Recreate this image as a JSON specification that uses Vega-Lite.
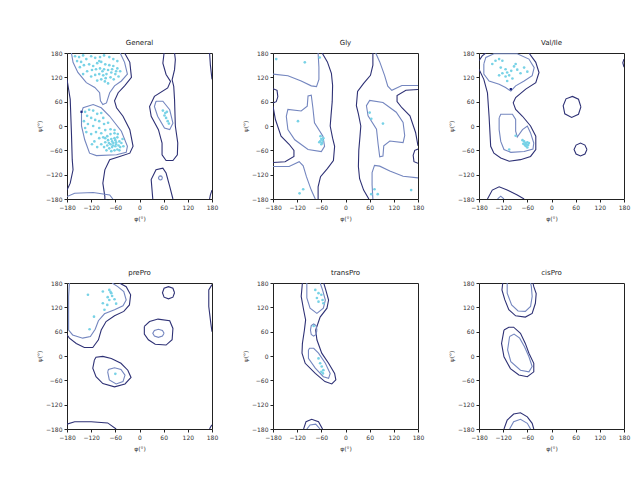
{
"$schema":"https://vega.github.io/schema/vega-lite/v6.json",
"background":"white",
"padding":{"left":36,"top":38,"right":5,"bottom":5},
"bounds":"flush",
"spacing":{"row":84,"column":61},
"columns":3,
"data":{"values":[
{"p":"General","k":"o","c":1,"x":-37,"y":180},{"p":"General","k":"o","c":1,"x":-24,"y":157},{"p":"General","k":"o","c":1,"x":-20,"y":120},{"p":"General","k":"o","c":1,"x":-37,"y":99},{"p":"General","k":"o","c":1,"x":-53,"y":82},{"p":"General","k":"o","c":1,"x":-62,"y":62},{"p":"General","k":"o","c":1,"x":-57,"y":45},{"p":"General","k":"o","c":1,"x":-41,"y":24},{"p":"General","k":"o","c":1,"x":-24,"y":-9},{"p":"General","k":"o","c":1,"x":-16,"y":-50},{"p":"General","k":"o","c":1,"x":-24,"y":-67},{"p":"General","k":"o","c":1,"x":-49,"y":-75},{"p":"General","k":"o","c":1,"x":-74,"y":-83},{"p":"General","k":"o","c":1,"x":-86,"y":-108},{"p":"General","k":"o","c":1,"x":-91,"y":-141},{"p":"General","k":"o","c":1,"x":-86,"y":-174},{"p":"General","k":"o","c":1,"x":-86,"y":-180},
{"p":"General","k":"i","c":2,"x":-169,"y":180},{"p":"General","k":"i","c":2,"x":-165,"y":157},{"p":"General","k":"i","c":2,"x":-153,"y":132},{"p":"General","k":"i","c":2,"x":-132,"y":107},{"p":"General","k":"i","c":2,"x":-111,"y":95},{"p":"General","k":"i","c":2,"x":-99,"y":82},{"p":"General","k":"i","c":2,"x":-97,"y":62},{"p":"General","k":"i","c":2,"x":-91,"y":53},{"p":"General","k":"i","c":2,"x":-82,"y":57},{"p":"General","k":"i","c":2,"x":-74,"y":82},{"p":"General","k":"i","c":2,"x":-62,"y":99},{"p":"General","k":"i","c":2,"x":-45,"y":111},{"p":"General","k":"i","c":2,"x":-30,"y":128},{"p":"General","k":"i","c":2,"x":-37,"y":157},{"p":"General","k":"i","c":2,"x":-48,"y":180},
{"p":"General","k":"i","c":3,"x":-144,"y":33},{"p":"General","k":"i","c":3,"x":-140,"y":45},{"p":"General","k":"i","c":3,"x":-115,"y":53},{"p":"General","k":"i","c":3,"x":-95,"y":45},{"p":"General","k":"i","c":3,"x":-74,"y":24},{"p":"General","k":"i","c":3,"x":-45,"y":-13},{"p":"General","k":"i","c":3,"x":-30,"y":-50},{"p":"General","k":"i","c":3,"x":-33,"y":-65},{"p":"General","k":"i","c":3,"x":-57,"y":-71},{"p":"General","k":"i","c":3,"x":-107,"y":-73},{"p":"General","k":"i","c":3,"x":-124,"y":-67},{"p":"General","k":"i","c":3,"x":-136,"y":-34},{"p":"General","k":"i","c":3,"x":-144,"y":0},{"p":"General","k":"i","c":3,"x":-144,"y":33},
{"p":"General","k":"o","c":4,"x":-180,"y":115},{"p":"General","k":"o","c":4,"x":-172,"y":66},{"p":"General","k":"o","c":4,"x":-169,"y":-17},{"p":"General","k":"o","c":4,"x":-167,"y":-83},{"p":"General","k":"o","c":4,"x":-165,"y":-108},{"p":"General","k":"o","c":4,"x":-172,"y":-141},{"p":"General","k":"o","c":4,"x":-180,"y":-158},
{"p":"General","k":"o","c":5,"x":174,"y":180},{"p":"General","k":"o","c":5,"x":176,"y":150},{"p":"General","k":"o","c":5,"x":180,"y":115},
{"p":"General","k":"o","c":6,"x":180,"y":-158},{"p":"General","k":"o","c":6,"x":176,"y":-170},{"p":"General","k":"o","c":6,"x":174,"y":-180},
{"p":"General","k":"i","c":7,"x":-180,"y":-174},{"p":"General","k":"i","c":7,"x":-161,"y":-166},{"p":"General","k":"i","c":7,"x":-115,"y":-164},{"p":"General","k":"i","c":7,"x":-74,"y":-170},{"p":"General","k":"i","c":7,"x":-66,"y":-180},
{"p":"General","k":"o","c":8,"x":61,"y":180},{"p":"General","k":"o","c":8,"x":58,"y":155},{"p":"General","k":"o","c":8,"x":66,"y":127},{"p":"General","k":"o","c":8,"x":77,"y":110},{"p":"General","k":"o","c":8,"x":70,"y":94},{"p":"General","k":"o","c":8,"x":37,"y":73},{"p":"General","k":"o","c":8,"x":25,"y":48},{"p":"General","k":"o","c":8,"x":29,"y":24},{"p":"General","k":"o","c":8,"x":47,"y":-9},{"p":"General","k":"o","c":8,"x":56,"y":-42},{"p":"General","k":"o","c":8,"x":56,"y":-71},{"p":"General","k":"o","c":8,"x":66,"y":-85},{"p":"General","k":"o","c":8,"x":83,"y":-85},{"p":"General","k":"o","c":8,"x":94,"y":-71},{"p":"General","k":"o","c":8,"x":95,"y":-42},{"p":"General","k":"o","c":8,"x":89,"y":0},{"p":"General","k":"o","c":8,"x":87,"y":65},{"p":"General","k":"o","c":8,"x":85,"y":98},{"p":"General","k":"o","c":8,"x":81,"y":114},{"p":"General","k":"o","c":8,"x":87,"y":139},{"p":"General","k":"o","c":8,"x":89,"y":164},{"p":"General","k":"o","c":8,"x":87,"y":180},
{"p":"General","k":"i","c":9,"x":41,"y":61},{"p":"General","k":"i","c":9,"x":37,"y":48},{"p":"General","k":"i","c":9,"x":45,"y":24},{"p":"General","k":"i","c":9,"x":62,"y":-5},{"p":"General","k":"i","c":9,"x":75,"y":-9},{"p":"General","k":"i","c":9,"x":83,"y":7},{"p":"General","k":"i","c":9,"x":75,"y":40},{"p":"General","k":"i","c":9,"x":58,"y":61},{"p":"General","k":"i","c":9,"x":41,"y":61},
{"p":"General","k":"o","c":10,"x":33,"y":-180},{"p":"General","k":"o","c":10,"x":29,"y":-132},{"p":"General","k":"o","c":10,"x":41,"y":-108},{"p":"General","k":"o","c":10,"x":58,"y":-104},{"p":"General","k":"o","c":10,"x":66,"y":-116},{"p":"General","k":"o","c":10,"x":75,"y":-149},{"p":"General","k":"o","c":10,"x":83,"y":-180},
{"p":"General","k":"i","c":11,"x":57,"y":-128},{"p":"General","k":"i","c":11,"x":55,"y":-124},{"p":"General","k":"i","c":11,"x":52,"y":-123},{"p":"General","k":"i","c":11,"x":49,"y":-124},{"p":"General","k":"i","c":11,"x":47,"y":-128},{"p":"General","k":"i","c":11,"x":49,"y":-132},{"p":"General","k":"i","c":11,"x":52,"y":-133},{"p":"General","k":"i","c":11,"x":55,"y":-132},{"p":"General","k":"i","c":11,"x":57,"y":-128},
{"p":"Gly","k":"i","c":20,"x":-147,"y":24},{"p":"Gly","k":"i","c":20,"x":-143,"y":41},{"p":"Gly","k":"i","c":20,"x":-110,"y":37},{"p":"Gly","k":"i","c":20,"x":-95,"y":49},{"p":"Gly","k":"i","c":20,"x":-93,"y":74},{"p":"Gly","k":"i","c":20,"x":-85,"y":76},{"p":"Gly","k":"i","c":20,"x":-81,"y":45},{"p":"Gly","k":"i","c":20,"x":-77,"y":8},{"p":"Gly","k":"i","c":20,"x":-56,"y":-25},{"p":"Gly","k":"i","c":20,"x":-52,"y":-50},{"p":"Gly","k":"i","c":20,"x":-60,"y":-63},{"p":"Gly","k":"i","c":20,"x":-93,"y":-58},{"p":"Gly","k":"i","c":20,"x":-126,"y":-34},{"p":"Gly","k":"i","c":20,"x":-143,"y":-9},{"p":"Gly","k":"i","c":20,"x":-147,"y":24},
{"p":"Gly","k":"i","c":21,"x":147,"y":-24},{"p":"Gly","k":"i","c":21,"x":143,"y":-41},{"p":"Gly","k":"i","c":21,"x":110,"y":-37},{"p":"Gly","k":"i","c":21,"x":95,"y":-49},{"p":"Gly","k":"i","c":21,"x":93,"y":-74},{"p":"Gly","k":"i","c":21,"x":85,"y":-76},{"p":"Gly","k":"i","c":21,"x":81,"y":-45},{"p":"Gly","k":"i","c":21,"x":77,"y":-8},{"p":"Gly","k":"i","c":21,"x":56,"y":25},{"p":"Gly","k":"i","c":21,"x":52,"y":50},{"p":"Gly","k":"i","c":21,"x":60,"y":63},{"p":"Gly","k":"i","c":21,"x":93,"y":58},{"p":"Gly","k":"i","c":21,"x":126,"y":34},{"p":"Gly","k":"i","c":21,"x":143,"y":9},{"p":"Gly","k":"i","c":21,"x":147,"y":-24},
{"p":"Gly","k":"o","c":22,"x":-58,"y":180},{"p":"Gly","k":"o","c":22,"x":-45,"y":158},{"p":"Gly","k":"o","c":22,"x":-35,"y":130},{"p":"Gly","k":"o","c":22,"x":-32,"y":100},{"p":"Gly","k":"o","c":22,"x":-33,"y":60},{"p":"Gly","k":"o","c":22,"x":-36,"y":25},{"p":"Gly","k":"o","c":22,"x":-38,"y":0},{"p":"Gly","k":"o","c":22,"x":-32,"y":-30},{"p":"Gly","k":"o","c":22,"x":-27,"y":-50},{"p":"Gly","k":"o","c":22,"x":-30,"y":-85},{"p":"Gly","k":"o","c":22,"x":-45,"y":-105},{"p":"Gly","k":"o","c":22,"x":-62,"y":-125},{"p":"Gly","k":"o","c":22,"x":-68,"y":-150},{"p":"Gly","k":"o","c":22,"x":-68,"y":-180},
{"p":"Gly","k":"o","c":23,"x":58,"y":-180},{"p":"Gly","k":"o","c":23,"x":45,"y":-158},{"p":"Gly","k":"o","c":23,"x":35,"y":-130},{"p":"Gly","k":"o","c":23,"x":32,"y":-100},{"p":"Gly","k":"o","c":23,"x":33,"y":-60},{"p":"Gly","k":"o","c":23,"x":36,"y":-25},{"p":"Gly","k":"o","c":23,"x":38,"y":0},{"p":"Gly","k":"o","c":23,"x":32,"y":30},{"p":"Gly","k":"o","c":23,"x":27,"y":50},{"p":"Gly","k":"o","c":23,"x":30,"y":85},{"p":"Gly","k":"o","c":23,"x":45,"y":105},{"p":"Gly","k":"o","c":23,"x":62,"y":125},{"p":"Gly","k":"o","c":23,"x":68,"y":150},{"p":"Gly","k":"o","c":23,"x":68,"y":180},
{"p":"Gly","k":"i","c":24,"x":-180,"y":128},{"p":"Gly","k":"i","c":24,"x":-143,"y":124},{"p":"Gly","k":"i","c":24,"x":-110,"y":111},{"p":"Gly","k":"i","c":24,"x":-85,"y":99},{"p":"Gly","k":"i","c":24,"x":-72,"y":97},{"p":"Gly","k":"i","c":24,"x":-66,"y":115},{"p":"Gly","k":"i","c":24,"x":-66,"y":145},{"p":"Gly","k":"i","c":24,"x":-68,"y":180},
{"p":"Gly","k":"i","c":25,"x":180,"y":-128},{"p":"Gly","k":"i","c":25,"x":143,"y":-124},{"p":"Gly","k":"i","c":25,"x":110,"y":-111},{"p":"Gly","k":"i","c":25,"x":85,"y":-99},{"p":"Gly","k":"i","c":25,"x":72,"y":-97},{"p":"Gly","k":"i","c":25,"x":66,"y":-115},{"p":"Gly","k":"i","c":25,"x":66,"y":-145},{"p":"Gly","k":"i","c":25,"x":68,"y":-180},
{"p":"Gly","k":"i","c":26,"x":-180,"y":-100},{"p":"Gly","k":"i","c":26,"x":-140,"y":-100},{"p":"Gly","k":"i","c":26,"x":-115,"y":-88},{"p":"Gly","k":"i","c":26,"x":-105,"y":-98},{"p":"Gly","k":"i","c":26,"x":-97,"y":-125},{"p":"Gly","k":"i","c":26,"x":-85,"y":-158},{"p":"Gly","k":"i","c":26,"x":-75,"y":-180},
{"p":"Gly","k":"i","c":27,"x":180,"y":100},{"p":"Gly","k":"i","c":27,"x":140,"y":100},{"p":"Gly","k":"i","c":27,"x":115,"y":88},{"p":"Gly","k":"i","c":27,"x":105,"y":98},{"p":"Gly","k":"i","c":27,"x":97,"y":125},{"p":"Gly","k":"i","c":27,"x":85,"y":158},{"p":"Gly","k":"i","c":27,"x":75,"y":180},
{"p":"Gly","k":"o","c":28,"x":180,"y":90},{"p":"Gly","k":"o","c":28,"x":150,"y":88},{"p":"Gly","k":"o","c":28,"x":128,"y":75},{"p":"Gly","k":"o","c":28,"x":128,"y":60},{"p":"Gly","k":"o","c":28,"x":140,"y":45},{"p":"Gly","k":"o","c":28,"x":160,"y":25},{"p":"Gly","k":"o","c":28,"x":174,"y":-16},{"p":"Gly","k":"o","c":28,"x":180,"y":-49},
{"p":"Gly","k":"o","c":29,"x":-180,"y":-90},{"p":"Gly","k":"o","c":29,"x":-150,"y":-88},{"p":"Gly","k":"o","c":29,"x":-128,"y":-75},{"p":"Gly","k":"o","c":29,"x":-128,"y":-60},{"p":"Gly","k":"o","c":29,"x":-140,"y":-45},{"p":"Gly","k":"o","c":29,"x":-160,"y":-25},{"p":"Gly","k":"o","c":29,"x":-174,"y":16},{"p":"Gly","k":"o","c":29,"x":-180,"y":49},
{"p":"Gly","k":"o","c":30,"x":-180,"y":92},{"p":"Gly","k":"o","c":30,"x":-170,"y":88},{"p":"Gly","k":"o","c":30,"x":-168,"y":72},{"p":"Gly","k":"o","c":30,"x":-172,"y":60},{"p":"Gly","k":"o","c":30,"x":-180,"y":57},
{"p":"Gly","k":"o","c":31,"x":180,"y":-92},{"p":"Gly","k":"o","c":31,"x":170,"y":-88},{"p":"Gly","k":"o","c":31,"x":168,"y":-72},{"p":"Gly","k":"o","c":31,"x":172,"y":-60},{"p":"Gly","k":"o","c":31,"x":180,"y":-57},
{"p":"Val/Ile","k":"i","c":40,"x":-168,"y":153},{"p":"Val/Ile","k":"i","c":40,"x":-163,"y":169},{"p":"Val/Ile","k":"i","c":40,"x":-143,"y":178},{"p":"Val/Ile","k":"i","c":40,"x":-85,"y":178},{"p":"Val/Ile","k":"i","c":40,"x":-56,"y":165},{"p":"Val/Ile","k":"i","c":40,"x":-43,"y":144},{"p":"Val/Ile","k":"i","c":40,"x":-48,"y":124},{"p":"Val/Ile","k":"i","c":40,"x":-68,"y":111},{"p":"Val/Ile","k":"i","c":40,"x":-89,"y":99},{"p":"Val/Ile","k":"i","c":40,"x":-101,"y":86},{"p":"Val/Ile","k":"i","c":40,"x":-114,"y":95},{"p":"Val/Ile","k":"i","c":40,"x":-130,"y":103},{"p":"Val/Ile","k":"i","c":40,"x":-155,"y":111},{"p":"Val/Ile","k":"i","c":40,"x":-168,"y":128},{"p":"Val/Ile","k":"i","c":40,"x":-168,"y":153},
{"p":"Val/Ile","k":"o","c":41,"x":-56,"y":180},{"p":"Val/Ile","k":"o","c":41,"x":-39,"y":157},{"p":"Val/Ile","k":"o","c":41,"x":-31,"y":132},{"p":"Val/Ile","k":"o","c":41,"x":-39,"y":107},{"p":"Val/Ile","k":"o","c":41,"x":-64,"y":91},{"p":"Val/Ile","k":"o","c":41,"x":-89,"y":70},{"p":"Val/Ile","k":"o","c":41,"x":-95,"y":57},{"p":"Val/Ile","k":"o","c":41,"x":-89,"y":41},{"p":"Val/Ile","k":"o","c":41,"x":-72,"y":24},{"p":"Val/Ile","k":"o","c":41,"x":-52,"y":0},{"p":"Val/Ile","k":"o","c":41,"x":-39,"y":-25},{"p":"Val/Ile","k":"o","c":41,"x":-39,"y":-58},{"p":"Val/Ile","k":"o","c":41,"x":-52,"y":-75},{"p":"Val/Ile","k":"o","c":41,"x":-77,"y":-83},{"p":"Val/Ile","k":"o","c":41,"x":-105,"y":-87},{"p":"Val/Ile","k":"o","c":41,"x":-126,"y":-79},{"p":"Val/Ile","k":"o","c":41,"x":-143,"y":-67},{"p":"Val/Ile","k":"o","c":41,"x":-151,"y":-50},{"p":"Val/Ile","k":"o","c":41,"x":-155,"y":24},{"p":"Val/Ile","k":"o","c":41,"x":-159,"y":82},{"p":"Val/Ile","k":"o","c":41,"x":-168,"y":115},{"p":"Val/Ile","k":"o","c":41,"x":-180,"y":140},
{"p":"Val/Ile","k":"o","c":42,"x":-180,"y":161},{"p":"Val/Ile","k":"o","c":42,"x":-172,"y":173},{"p":"Val/Ile","k":"o","c":42,"x":-163,"y":180},
{"p":"Val/Ile","k":"i","c":43,"x":-130,"y":20},{"p":"Val/Ile","k":"i","c":43,"x":-126,"y":29},{"p":"Val/Ile","k":"i","c":43,"x":-97,"y":29},{"p":"Val/Ile","k":"i","c":43,"x":-89,"y":16},{"p":"Val/Ile","k":"i","c":43,"x":-89,"y":-13},{"p":"Val/Ile","k":"i","c":43,"x":-85,"y":-27},{"p":"Val/Ile","k":"i","c":43,"x":-72,"y":-9},{"p":"Val/Ile","k":"i","c":43,"x":-60,"y":0},{"p":"Val/Ile","k":"i","c":43,"x":-52,"y":-17},{"p":"Val/Ile","k":"i","c":43,"x":-44,"y":-42},{"p":"Val/Ile","k":"i","c":43,"x":-46,"y":-57},{"p":"Val/Ile","k":"i","c":43,"x":-68,"y":-63},{"p":"Val/Ile","k":"i","c":43,"x":-101,"y":-65},{"p":"Val/Ile","k":"i","c":43,"x":-118,"y":-58},{"p":"Val/Ile","k":"i","c":43,"x":-126,"y":-38},{"p":"Val/Ile","k":"i","c":43,"x":-130,"y":-9},{"p":"Val/Ile","k":"i","c":43,"x":-130,"y":20},
{"p":"Val/Ile","k":"o","c":44,"x":73,"y":47},{"p":"Val/Ile","k":"o","c":44,"x":67,"y":66},{"p":"Val/Ile","k":"o","c":44,"x":52,"y":73},{"p":"Val/Ile","k":"o","c":44,"x":36,"y":67},{"p":"Val/Ile","k":"o","c":44,"x":29,"y":50},{"p":"Val/Ile","k":"o","c":44,"x":33,"y":30},{"p":"Val/Ile","k":"o","c":44,"x":50,"y":21},{"p":"Val/Ile","k":"o","c":44,"x":67,"y":29},{"p":"Val/Ile","k":"o","c":44,"x":73,"y":47},
{"p":"Val/Ile","k":"o","c":45,"x":88,"y":-58},{"p":"Val/Ile","k":"o","c":45,"x":83,"y":-47},{"p":"Val/Ile","k":"o","c":45,"x":72,"y":-42},{"p":"Val/Ile","k":"o","c":45,"x":61,"y":-47},{"p":"Val/Ile","k":"o","c":45,"x":56,"y":-58},{"p":"Val/Ile","k":"o","c":45,"x":61,"y":-69},{"p":"Val/Ile","k":"o","c":45,"x":72,"y":-74},{"p":"Val/Ile","k":"o","c":45,"x":83,"y":-69},{"p":"Val/Ile","k":"o","c":45,"x":88,"y":-58},
{"p":"Val/Ile","k":"o","c":46,"x":-159,"y":-180},{"p":"Val/Ile","k":"o","c":46,"x":-147,"y":-158},{"p":"Val/Ile","k":"o","c":46,"x":-130,"y":-150},{"p":"Val/Ile","k":"o","c":46,"x":-110,"y":-158},{"p":"Val/Ile","k":"o","c":46,"x":-85,"y":-170},{"p":"Val/Ile","k":"o","c":46,"x":-68,"y":-180},
{"p":"Val/Ile","k":"i","c":47,"x":-134,"y":-180},{"p":"Val/Ile","k":"i","c":47,"x":-126,"y":-173},{"p":"Val/Ile","k":"i","c":47,"x":-118,"y":-180},
{"p":"Val/Ile","k":"o","c":48,"x":180,"y":165},{"p":"Val/Ile","k":"o","c":48,"x":177,"y":156},{"p":"Val/Ile","k":"o","c":48,"x":180,"y":145},
{"p":"prePro","k":"i","c":60,"x":-174,"y":180},{"p":"prePro","k":"i","c":60,"x":-176,"y":147},{"p":"prePro","k":"i","c":60,"x":-176,"y":97},{"p":"prePro","k":"i","c":60,"x":-176,"y":64},{"p":"prePro","k":"i","c":60,"x":-166,"y":52},{"p":"prePro","k":"i","c":60,"x":-141,"y":44},{"p":"prePro","k":"i","c":60,"x":-122,"y":48},{"p":"prePro","k":"i","c":60,"x":-110,"y":66},{"p":"prePro","k":"i","c":60,"x":-102,"y":87},{"p":"prePro","k":"i","c":60,"x":-87,"y":104},{"p":"prePro","k":"i","c":60,"x":-62,"y":114},{"p":"prePro","k":"i","c":60,"x":-41,"y":124},{"p":"prePro","k":"i","c":60,"x":-33,"y":138},{"p":"prePro","k":"i","c":60,"x":-39,"y":159},{"p":"prePro","k":"i","c":60,"x":-54,"y":171},{"p":"prePro","k":"i","c":60,"x":-68,"y":180},
{"p":"prePro","k":"o","c":61,"x":-50,"y":180},{"p":"prePro","k":"o","c":61,"x":-33,"y":171},{"p":"prePro","k":"o","c":61,"x":-22,"y":151},{"p":"prePro","k":"o","c":61,"x":-25,"y":126},{"p":"prePro","k":"o","c":61,"x":-39,"y":110},{"p":"prePro","k":"o","c":61,"x":-62,"y":99},{"p":"prePro","k":"o","c":61,"x":-83,"y":85},{"p":"prePro","k":"o","c":61,"x":-95,"y":64},{"p":"prePro","k":"o","c":61,"x":-102,"y":40},{"p":"prePro","k":"o","c":61,"x":-116,"y":21},{"p":"prePro","k":"o","c":61,"x":-137,"y":21},{"p":"prePro","k":"o","c":61,"x":-157,"y":31},{"p":"prePro","k":"o","c":61,"x":-174,"y":44},{"p":"prePro","k":"o","c":61,"x":-180,"y":52},
{"p":"prePro","k":"o","c":62,"x":-112,"y":-10},{"p":"prePro","k":"o","c":62,"x":-116,"y":-30},{"p":"prePro","k":"o","c":62,"x":-108,"y":-51},{"p":"prePro","k":"o","c":62,"x":-91,"y":-68},{"p":"prePro","k":"o","c":62,"x":-62,"y":-76},{"p":"prePro","k":"o","c":62,"x":-36,"y":-69},{"p":"prePro","k":"o","c":62,"x":-21,"y":-53},{"p":"prePro","k":"o","c":62,"x":-29,"y":-35},{"p":"prePro","k":"o","c":62,"x":-46,"y":-18},{"p":"prePro","k":"o","c":62,"x":-70,"y":-6},{"p":"prePro","k":"o","c":62,"x":-91,"y":-1},{"p":"prePro","k":"o","c":62,"x":-108,"y":-3},{"p":"prePro","k":"o","c":62,"x":-112,"y":-10},
{"p":"prePro","k":"i","c":63,"x":-79,"y":-39},{"p":"prePro","k":"i","c":63,"x":-75,"y":-59},{"p":"prePro","k":"i","c":63,"x":-58,"y":-69},{"p":"prePro","k":"i","c":63,"x":-41,"y":-63},{"p":"prePro","k":"i","c":63,"x":-36,"y":-47},{"p":"prePro","k":"i","c":63,"x":-46,"y":-33},{"p":"prePro","k":"i","c":63,"x":-62,"y":-29},{"p":"prePro","k":"i","c":63,"x":-77,"y":-33},{"p":"prePro","k":"i","c":63,"x":-79,"y":-39},
{"p":"prePro","k":"o","c":64,"x":12,"y":73},{"p":"prePro","k":"o","c":64,"x":12,"y":54},{"p":"prePro","k":"o","c":64,"x":22,"y":40},{"p":"prePro","k":"o","c":64,"x":39,"y":29},{"p":"prePro","k":"o","c":64,"x":66,"y":27},{"p":"prePro","k":"o","c":64,"x":81,"y":40},{"p":"prePro","k":"o","c":64,"x":83,"y":68},{"p":"prePro","k":"o","c":64,"x":75,"y":87},{"p":"prePro","k":"o","c":64,"x":46,"y":91},{"p":"prePro","k":"o","c":64,"x":25,"y":85},{"p":"prePro","k":"o","c":64,"x":12,"y":73},
{"p":"prePro","k":"i","c":65,"x":61,"y":56},{"p":"prePro","k":"i","c":65,"x":57,"y":63},{"p":"prePro","k":"i","c":65,"x":47,"y":66},{"p":"prePro","k":"i","c":65,"x":37,"y":63},{"p":"prePro","k":"i","c":65,"x":33,"y":56},{"p":"prePro","k":"i","c":65,"x":37,"y":49},{"p":"prePro","k":"i","c":65,"x":47,"y":46},{"p":"prePro","k":"i","c":65,"x":57,"y":49},{"p":"prePro","k":"i","c":65,"x":61,"y":56},
{"p":"prePro","k":"o","c":66,"x":87,"y":156},{"p":"prePro","k":"o","c":66,"x":83,"y":167},{"p":"prePro","k":"o","c":66,"x":72,"y":171},{"p":"prePro","k":"o","c":66,"x":61,"y":167},{"p":"prePro","k":"o","c":66,"x":57,"y":156},{"p":"prePro","k":"o","c":66,"x":61,"y":145},{"p":"prePro","k":"o","c":66,"x":72,"y":141},{"p":"prePro","k":"o","c":66,"x":83,"y":145},{"p":"prePro","k":"o","c":66,"x":87,"y":156},
{"p":"prePro","k":"o","c":67,"x":180,"y":176},{"p":"prePro","k":"o","c":67,"x":172,"y":163},{"p":"prePro","k":"o","c":67,"x":172,"y":122},{"p":"prePro","k":"o","c":67,"x":177,"y":81},{"p":"prePro","k":"o","c":67,"x":180,"y":60},
{"p":"prePro","k":"o","c":68,"x":-180,"y":-168},{"p":"prePro","k":"o","c":68,"x":-161,"y":-162},{"p":"prePro","k":"o","c":68,"x":-120,"y":-162},{"p":"prePro","k":"o","c":68,"x":-79,"y":-165},{"p":"prePro","k":"o","c":68,"x":-58,"y":-180},
{"p":"prePro","k":"o","c":69,"x":174,"y":-180},{"p":"prePro","k":"o","c":69,"x":177,"y":-174},{"p":"prePro","k":"o","c":69,"x":180,"y":-170},
{"p":"transPro","k":"o","c":80,"x":-107,"y":180},{"p":"transPro","k":"o","c":80,"x":-110,"y":147},{"p":"transPro","k":"o","c":80,"x":-104,"y":114},{"p":"transPro","k":"o","c":80,"x":-99,"y":89},{"p":"transPro","k":"o","c":80,"x":-102,"y":64},{"p":"transPro","k":"o","c":80,"x":-107,"y":31},{"p":"transPro","k":"o","c":80,"x":-108,"y":7},{"p":"transPro","k":"o","c":80,"x":-100,"y":-18},{"p":"transPro","k":"o","c":80,"x":-75,"y":-43},{"p":"transPro","k":"o","c":80,"x":-51,"y":-63},{"p":"transPro","k":"o","c":80,"x":-34,"y":-69},{"p":"transPro","k":"o","c":80,"x":-24,"y":-59},{"p":"transPro","k":"o","c":80,"x":-27,"y":-43},{"p":"transPro","k":"o","c":80,"x":-42,"y":-18},{"p":"transPro","k":"o","c":80,"x":-59,"y":7},{"p":"transPro","k":"o","c":80,"x":-71,"y":40},{"p":"transPro","k":"o","c":80,"x":-74,"y":64},{"p":"transPro","k":"o","c":80,"x":-63,"y":96},{"p":"transPro","k":"o","c":80,"x":-46,"y":118},{"p":"transPro","k":"o","c":80,"x":-42,"y":138},{"p":"transPro","k":"o","c":80,"x":-49,"y":163},{"p":"transPro","k":"o","c":80,"x":-54,"y":180},
{"p":"transPro","k":"i","c":81,"x":-96,"y":180},{"p":"transPro","k":"i","c":81,"x":-96,"y":143},{"p":"transPro","k":"i","c":81,"x":-88,"y":118},{"p":"transPro","k":"i","c":81,"x":-71,"y":105},{"p":"transPro","k":"i","c":81,"x":-55,"y":118},{"p":"transPro","k":"i","c":81,"x":-50,"y":138},{"p":"transPro","k":"i","c":81,"x":-57,"y":163},{"p":"transPro","k":"i","c":81,"x":-63,"y":180},
{"p":"transPro","k":"i","c":82,"x":-71,"y":64},{"p":"transPro","k":"i","c":82,"x":-73,"y":75},{"p":"transPro","k":"i","c":82,"x":-79,"y":79},{"p":"transPro","k":"i","c":82,"x":-85,"y":75},{"p":"transPro","k":"i","c":82,"x":-87,"y":64},{"p":"transPro","k":"i","c":82,"x":-85,"y":53},{"p":"transPro","k":"i","c":82,"x":-79,"y":49},{"p":"transPro","k":"i","c":82,"x":-73,"y":53},{"p":"transPro","k":"i","c":82,"x":-71,"y":64},
{"p":"transPro","k":"i","c":83,"x":-92,"y":15},{"p":"transPro","k":"i","c":83,"x":-92,"y":-6},{"p":"transPro","k":"i","c":83,"x":-75,"y":-30},{"p":"transPro","k":"i","c":83,"x":-55,"y":-51},{"p":"transPro","k":"i","c":83,"x":-42,"y":-55},{"p":"transPro","k":"i","c":83,"x":-38,"y":-43},{"p":"transPro","k":"i","c":83,"x":-50,"y":-18},{"p":"transPro","k":"i","c":83,"x":-67,"y":7},{"p":"transPro","k":"i","c":83,"x":-79,"y":19},{"p":"transPro","k":"i","c":83,"x":-89,"y":19},{"p":"transPro","k":"i","c":83,"x":-92,"y":15},
{"p":"transPro","k":"o","c":84,"x":-104,"y":-180},{"p":"transPro","k":"o","c":84,"x":-98,"y":-162},{"p":"transPro","k":"o","c":84,"x":-84,"y":-156},{"p":"transPro","k":"o","c":84,"x":-67,"y":-162},{"p":"transPro","k":"o","c":84,"x":-57,"y":-180},
{"p":"transPro","k":"i","c":85,"x":-96,"y":-180},{"p":"transPro","k":"i","c":85,"x":-88,"y":-170},{"p":"transPro","k":"i","c":85,"x":-74,"y":-168},{"p":"transPro","k":"i","c":85,"x":-63,"y":-180},
{"p":"cisPro","k":"o","c":90,"x":-121,"y":180},{"p":"cisPro","k":"o","c":90,"x":-123,"y":163},{"p":"cisPro","k":"o","c":90,"x":-116,"y":139},{"p":"cisPro","k":"o","c":90,"x":-106,"y":114},{"p":"cisPro","k":"o","c":90,"x":-89,"y":99},{"p":"cisPro","k":"o","c":90,"x":-65,"y":96},{"p":"cisPro","k":"o","c":90,"x":-48,"y":105},{"p":"cisPro","k":"o","c":90,"x":-40,"y":130},{"p":"cisPro","k":"o","c":90,"x":-38,"y":154},{"p":"cisPro","k":"o","c":90,"x":-44,"y":171},{"p":"cisPro","k":"o","c":90,"x":-46,"y":180},
{"p":"cisPro","k":"i","c":91,"x":-110,"y":180},{"p":"cisPro","k":"i","c":91,"x":-110,"y":155},{"p":"cisPro","k":"i","c":91,"x":-99,"y":126},{"p":"cisPro","k":"i","c":91,"x":-83,"y":111},{"p":"cisPro","k":"i","c":91,"x":-65,"y":110},{"p":"cisPro","k":"i","c":91,"x":-52,"y":122},{"p":"cisPro","k":"i","c":91,"x":-48,"y":147},{"p":"cisPro","k":"i","c":91,"x":-50,"y":171},{"p":"cisPro","k":"i","c":91,"x":-52,"y":180},
{"p":"cisPro","k":"o","c":92,"x":-118,"y":64},{"p":"cisPro","k":"o","c":92,"x":-124,"y":31},{"p":"cisPro","k":"o","c":92,"x":-118,"y":-2},{"p":"cisPro","k":"o","c":92,"x":-102,"y":-31},{"p":"cisPro","k":"o","c":92,"x":-81,"y":-47},{"p":"cisPro","k":"o","c":92,"x":-60,"y":-51},{"p":"cisPro","k":"o","c":92,"x":-44,"y":-39},{"p":"cisPro","k":"o","c":92,"x":-44,"y":-18},{"p":"cisPro","k":"o","c":92,"x":-56,"y":7},{"p":"cisPro","k":"o","c":92,"x":-65,"y":31},{"p":"cisPro","k":"o","c":92,"x":-77,"y":56},{"p":"cisPro","k":"o","c":92,"x":-94,"y":71},{"p":"cisPro","k":"o","c":92,"x":-106,"y":71},{"p":"cisPro","k":"o","c":92,"x":-118,"y":64},
{"p":"cisPro","k":"i","c":93,"x":-104,"y":48},{"p":"cisPro","k":"i","c":93,"x":-109,"y":15},{"p":"cisPro","k":"i","c":93,"x":-101,"y":-14},{"p":"cisPro","k":"i","c":93,"x":-77,"y":-35},{"p":"cisPro","k":"i","c":93,"x":-56,"y":-39},{"p":"cisPro","k":"i","c":93,"x":-48,"y":-26},{"p":"cisPro","k":"i","c":93,"x":-56,"y":-2},{"p":"cisPro","k":"i","c":93,"x":-67,"y":23},{"p":"cisPro","k":"i","c":93,"x":-79,"y":44},{"p":"cisPro","k":"i","c":93,"x":-93,"y":54},{"p":"cisPro","k":"i","c":93,"x":-104,"y":48},
{"p":"cisPro","k":"o","c":94,"x":-118,"y":-180},{"p":"cisPro","k":"o","c":94,"x":-110,"y":-158},{"p":"cisPro","k":"o","c":94,"x":-94,"y":-143},{"p":"cisPro","k":"o","c":94,"x":-77,"y":-140},{"p":"cisPro","k":"o","c":94,"x":-60,"y":-150},{"p":"cisPro","k":"o","c":94,"x":-48,"y":-166},{"p":"cisPro","k":"o","c":94,"x":-44,"y":-180},
{"p":"cisPro","k":"i","c":95,"x":-104,"y":-180},{"p":"cisPro","k":"i","c":95,"x":-94,"y":-162},{"p":"cisPro","k":"i","c":95,"x":-77,"y":-156},{"p":"cisPro","k":"i","c":95,"x":-60,"y":-166},{"p":"cisPro","k":"i","c":95,"x":-52,"y":-180},
{"p":"General","k":"pt","x":-160,"y":172},{"p":"General","k":"pt","x":-150,"y":170},{"p":"General","k":"pt","x":-140,"y":174},{"p":"General","k":"pt","x":-155,"y":160},{"p":"General","k":"pt","x":-145,"y":158},{"p":"General","k":"pt","x":-132,"y":165},{"p":"General","k":"pt","x":-120,"y":172},{"p":"General","k":"pt","x":-110,"y":168},{"p":"General","k":"pt","x":-98,"y":170},{"p":"General","k":"pt","x":-88,"y":174},{"p":"General","k":"pt","x":-75,"y":170},{"p":"General","k":"pt","x":-65,"y":165},{"p":"General","k":"pt","x":-55,"y":160},{"p":"General","k":"pt","x":-148,"y":145},{"p":"General","k":"pt","x":-138,"y":150},{"p":"General","k":"pt","x":-125,"y":152},{"p":"General","k":"pt","x":-115,"y":148},{"p":"General","k":"pt","x":-105,"y":155},{"p":"General","k":"pt","x":-95,"y":158},{"p":"General","k":"pt","x":-85,"y":152},{"p":"General","k":"pt","x":-75,"y":150},{"p":"General","k":"pt","x":-65,"y":148},{"p":"General","k":"pt","x":-55,"y":142},{"p":"General","k":"pt","x":-48,"y":135},{"p":"General","k":"pt","x":-130,"y":135},{"p":"General","k":"pt","x":-118,"y":138},{"p":"General","k":"pt","x":-108,"y":140},{"p":"General","k":"pt","x":-98,"y":142},{"p":"General","k":"pt","x":-88,"y":140},{"p":"General","k":"pt","x":-78,"y":138},{"p":"General","k":"pt","x":-70,"y":132},{"p":"General","k":"pt","x":-60,"y":128},{"p":"General","k":"pt","x":-52,"y":122},{"p":"General","k":"pt","x":-120,"y":122},{"p":"General","k":"pt","x":-110,"y":126},{"p":"General","k":"pt","x":-100,"y":128},{"p":"General","k":"pt","x":-90,"y":125},{"p":"General","k":"pt","x":-82,"y":128},{"p":"General","k":"pt","x":-72,"y":120},{"p":"General","k":"pt","x":-64,"y":115},{"p":"General","k":"pt","x":-105,"y":112},{"p":"General","k":"pt","x":-95,"y":115},{"p":"General","k":"pt","x":-86,"y":110},{"p":"General","k":"pt","x":-78,"y":105},{"p":"General","k":"pt","x":-140,"y":128},{"p":"General","k":"pt","x":-92,"y":135},{"p":"General","k":"pt","x":-84,"y":118},{"p":"General","k":"pt","x":-68,"y":140},{"p":"General","k":"pt","x":-58,"y":135},{"p":"General","k":"pt","x":-100,"y":160},
{"p":"General","k":"pt","x":-135,"y":35},{"p":"General","k":"pt","x":-125,"y":40},{"p":"General","k":"pt","x":-115,"y":38},{"p":"General","k":"pt","x":-130,"y":25},{"p":"General","k":"pt","x":-120,"y":20},{"p":"General","k":"pt","x":-105,"y":30},{"p":"General","k":"pt","x":-95,"y":32},{"p":"General","k":"pt","x":-110,"y":15},{"p":"General","k":"pt","x":-100,"y":12},{"p":"General","k":"pt","x":-90,"y":20},{"p":"General","k":"pt","x":-128,"y":5},{"p":"General","k":"pt","x":-115,"y":0},{"p":"General","k":"pt","x":-100,"y":-5},{"p":"General","k":"pt","x":-88,"y":5},{"p":"General","k":"pt","x":-78,"y":8},{"p":"General","k":"pt","x":-132,"y":-15},{"p":"General","k":"pt","x":-120,"y":-20},{"p":"General","k":"pt","x":-108,"y":-15},{"p":"General","k":"pt","x":-95,"y":-18},{"p":"General","k":"pt","x":-85,"y":-10},{"p":"General","k":"pt","x":-72,"y":-8},{"p":"General","k":"pt","x":-112,"y":-38},{"p":"General","k":"pt","x":-100,"y":-30},{"p":"General","k":"pt","x":-90,"y":-28},{"p":"General","k":"pt","x":-80,"y":-25},{"p":"General","k":"pt","x":-72,"y":-20},{"p":"General","k":"pt","x":-62,"y":-18},{"p":"General","k":"pt","x":-95,"y":-45},{"p":"General","k":"pt","x":-85,"y":-40},{"p":"General","k":"pt","x":-78,"y":-35},{"p":"General","k":"pt","x":-70,"y":-32},{"p":"General","k":"pt","x":-62,"y":-30},{"p":"General","k":"pt","x":-55,"y":-28},{"p":"General","k":"pt","x":-88,"y":-52},{"p":"General","k":"pt","x":-80,"y":-48},{"p":"General","k":"pt","x":-72,"y":-45},{"p":"General","k":"pt","x":-65,"y":-42},{"p":"General","k":"pt","x":-58,"y":-40},{"p":"General","k":"pt","x":-50,"y":-38},{"p":"General","k":"pt","x":-75,"y":-55},{"p":"General","k":"pt","x":-68,"y":-52},{"p":"General","k":"pt","x":-60,"y":-50},{"p":"General","k":"pt","x":-52,"y":-48},{"p":"General","k":"pt","x":-45,"y":-42},{"p":"General","k":"pt","x":-62,"y":-60},{"p":"General","k":"pt","x":-55,"y":-58},{"p":"General","k":"pt","x":-70,"y":-62},{"p":"General","k":"pt","x":-82,"y":-60},{"p":"General","k":"pt","x":-68,"y":-38},{"p":"General","k":"pt","x":-60,"y":-35},{"p":"General","k":"pt","x":-76,"y":-42},{"p":"General","k":"pt","x":-66,"y":-48},{"p":"General","k":"pt","x":-58,"y":-45},{"p":"General","k":"pt","x":-48,"y":-52},{"p":"General","k":"pt","x":-85,"y":-30},{"p":"General","k":"pt","x":-118,"y":-45},{"p":"General","k":"pt","x":-105,"y":-52},{"p":"General","k":"pt","x":-138,"y":12},{"p":"General","k":"pt","x":-135,"y":-5},{"p":"General","k":"pt","x":-62,"y":-10},{"p":"General","k":"pt","x":-54,"y":-20},{"p":"General","k":"pt","x":-42,"y":-32},{"p":"General","k":"pt","x":-40,"y":-50},{"p":"General","k":"pt","x":-50,"y":-60},
{"p":"General","k":"pt","x":58,"y":38},{"p":"General","k":"pt","x":64,"y":32},{"p":"General","k":"pt","x":68,"y":35},{"p":"General","k":"pt","x":66,"y":20},{"p":"General","k":"pt","x":70,"y":12},{"p":"General","k":"pt","x":73,"y":6},{"p":"General","k":"pt","x":62,"y":26},
{"p":"General","k":"d","x":-144,"y":35},{"p":"Val/Ile","k":"d","x":-101,"y":91},
{"p":"Gly","k":"pt","x":-172,"y":165},{"p":"Gly","k":"pt","x":-101,"y":157},{"p":"Gly","k":"pt","x":-64,"y":169},{"p":"Gly","k":"pt","x":-118,"y":12},{"p":"Gly","k":"pt","x":-62,"y":-25},{"p":"Gly","k":"pt","x":-60,"y":-32},{"p":"Gly","k":"pt","x":-63,"y":-38},{"p":"Gly","k":"pt","x":-58,"y":-42},{"p":"Gly","k":"pt","x":-55,"y":-30},{"p":"Gly","k":"pt","x":-60,"y":-45},{"p":"Gly","k":"pt","x":-65,"y":-40},{"p":"Gly","k":"pt","x":-57,"y":-36},{"p":"Gly","k":"pt","x":60,"y":33},{"p":"Gly","k":"pt","x":64,"y":18},{"p":"Gly","k":"pt","x":93,"y":6},{"p":"Gly","k":"pt","x":-114,"y":-166},{"p":"Gly","k":"pt","x":-105,"y":-156},{"p":"Gly","k":"pt","x":72,"y":-156},{"p":"Gly","k":"pt","x":64,"y":-168},{"p":"Gly","k":"pt","x":80,"y":-168},{"p":"Gly","k":"pt","x":163,"y":-158},
{"p":"Val/Ile","k":"pt","x":-139,"y":161},{"p":"Val/Ile","k":"pt","x":-130,"y":165},{"p":"Val/Ile","k":"pt","x":-122,"y":161},{"p":"Val/Ile","k":"pt","x":-147,"y":153},{"p":"Val/Ile","k":"pt","x":-126,"y":144},{"p":"Val/Ile","k":"pt","x":-114,"y":140},{"p":"Val/Ile","k":"pt","x":-110,"y":132},{"p":"Val/Ile","k":"pt","x":-122,"y":130},{"p":"Val/Ile","k":"pt","x":-130,"y":125},{"p":"Val/Ile","k":"pt","x":-105,"y":125},{"p":"Val/Ile","k":"pt","x":-100,"y":136},{"p":"Val/Ile","k":"pt","x":-93,"y":147},{"p":"Val/Ile","k":"pt","x":-85,"y":139},{"p":"Val/Ile","k":"pt","x":-77,"y":130},{"p":"Val/Ile","k":"pt","x":-68,"y":144},{"p":"Val/Ile","k":"pt","x":-60,"y":134},{"p":"Val/Ile","k":"pt","x":-97,"y":117},{"p":"Val/Ile","k":"pt","x":-110,"y":111},{"p":"Val/Ile","k":"pt","x":-114,"y":122},{"p":"Val/Ile","k":"pt","x":-89,"y":153},
{"p":"Val/Ile","k":"pt","x":-89,"y":-24},{"p":"Val/Ile","k":"pt","x":-68,"y":-38},{"p":"Val/Ile","k":"pt","x":-65,"y":-42},{"p":"Val/Ile","k":"pt","x":-62,"y":-45},{"p":"Val/Ile","k":"pt","x":-60,"y":-40},{"p":"Val/Ile","k":"pt","x":-63,"y":-50},{"p":"Val/Ile","k":"pt","x":-58,"y":-47},{"p":"Val/Ile","k":"pt","x":-66,"y":-47},{"p":"Val/Ile","k":"pt","x":-70,"y":-44},{"p":"Val/Ile","k":"pt","x":-60,"y":-53},{"p":"Val/Ile","k":"pt","x":-56,"y":-42},{"p":"Val/Ile","k":"pt","x":-105,"y":-58},{"p":"Val/Ile","k":"pt","x":-72,"y":-35},
{"p":"prePro","k":"pt","x":-128,"y":151},{"p":"prePro","k":"pt","x":-91,"y":159},{"p":"prePro","k":"pt","x":-75,"y":163},{"p":"prePro","k":"pt","x":-70,"y":155},{"p":"prePro","k":"pt","x":-79,"y":145},{"p":"prePro","k":"pt","x":-62,"y":140},{"p":"prePro","k":"pt","x":-58,"y":129},{"p":"prePro","k":"pt","x":-75,"y":138},{"p":"prePro","k":"pt","x":-80,"y":126},{"p":"prePro","k":"pt","x":-91,"y":130},{"p":"prePro","k":"pt","x":-87,"y":114},{"p":"prePro","k":"pt","x":-113,"y":97},{"p":"prePro","k":"pt","x":-124,"y":66},{"p":"prePro","k":"pt","x":-60,"y":-44},{"p":"prePro","k":"pt","x":-72,"y":158},{"p":"prePro","k":"pt","x":-68,"y":148},
{"p":"transPro","k":"pt","x":-75,"y":163},{"p":"transPro","k":"pt","x":-67,"y":155},{"p":"transPro","k":"pt","x":-60,"y":151},{"p":"transPro","k":"pt","x":-57,"y":138},{"p":"transPro","k":"pt","x":-55,"y":130},{"p":"transPro","k":"pt","x":-67,"y":134},{"p":"transPro","k":"pt","x":-71,"y":143},{"p":"transPro","k":"pt","x":-79,"y":74},{"p":"transPro","k":"pt","x":-67,"y":-6},{"p":"transPro","k":"pt","x":-63,"y":-18},{"p":"transPro","k":"pt","x":-59,"y":-26},{"p":"transPro","k":"pt","x":-55,"y":-35},{"p":"transPro","k":"pt","x":-60,"y":-39},{"p":"transPro","k":"pt","x":-56,"y":-43}
]},
"facet":{"field":"p","type":"nominal","sort":["General","Gly","Val/Ile","prePro","transPro","cisPro"],
 "header":{"title":null,"labelFont":"DejaVu Sans","labelFontSize":7,"labelColor":"#222","labelPadding":4}},
"resolve":{"axis":{"x":"independent","y":"independent"}},
"spec":{
 "width":145,"height":146,
 "encoding":{
  "x":{"field":"x","type":"quantitative","scale":{"domain":[-180,180],"nice":false,"zero":false},"axis":{"values":[-180,-120,-60,0,60,120,180],"title":"φ(°)","titlePadding":5}},
  "y":{"field":"y","type":"quantitative","scale":{"domain":[-180,180],"nice":false,"zero":false},"axis":{"values":[-180,-120,-60,0,60,120,180],"title":"ψ(°)"}}
 },
 "layer":[
  {"transform":[{"filter":"datum.k=='o' || datum.k=='i'"}],
   "mark":{"type":"line","strokeWidth":1.1,"clip":true},
   "encoding":{"detail":{"field":"c","type":"nominal"},"order":{"value":null},
    "color":{"field":"k","type":"nominal","scale":{"domain":["o","i"],"range":["#2e3175","#7486bf"]},"legend":null}}},
  {"transform":[{"filter":"datum.k=='pt'"}],
   "mark":{"type":"circle","size":7,"color":"#78d2e6","opacity":1}},
  {"transform":[{"filter":"datum.k=='d'"}],
   "mark":{"type":"square","size":5,"color":"#1a237e","opacity":1}}
 ]
},
"config":{
 "font":"DejaVu Sans",
 "view":{"stroke":"#222","strokeWidth":1},
 "axis":{"grid":false,"domain":false,"tickColor":"#222","tickSize":3,"labelFontSize":6,"labelColor":"#333","titleFontSize":6,"titleFontWeight":"normal","titleColor":"#333","labelPadding":2,"titlePadding":3,"labelOverlap":false,"labelFlush":false}
}
}
